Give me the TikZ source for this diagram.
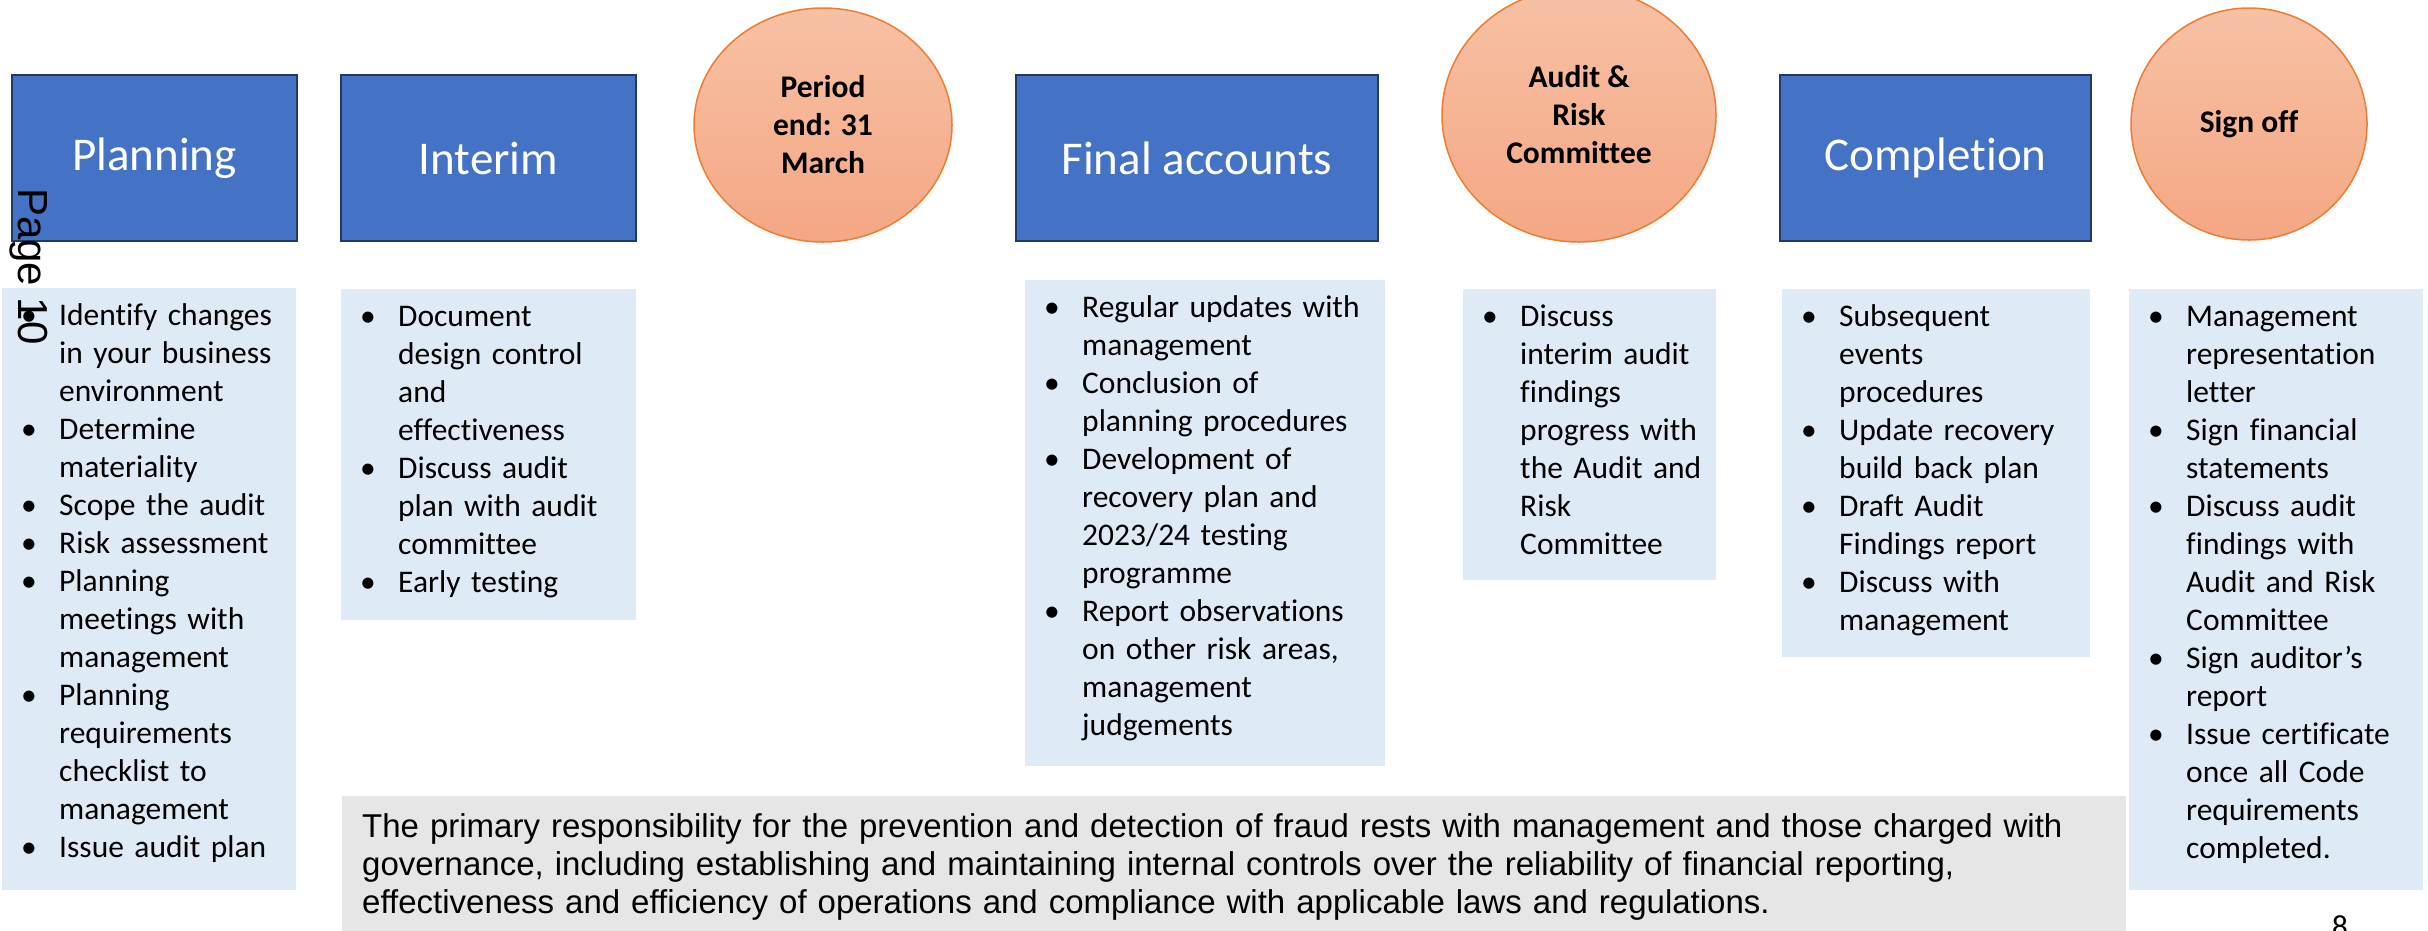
\documentclass[tikz,border=0pt]{standalone}
\usepackage{fontspec}
\setmainfont{Carlito}[Ligatures=NoCommon]
\newfontfamily\notefont{Liberation Sans}
\usetikzlibrary{shapes.geometric}

\definecolor{phaseblue}{HTML}{4472C4}
\definecolor{phaseedge}{HTML}{223A66}
\definecolor{listblue}{HTML}{DEEBF7}
\definecolor{notegray}{HTML}{E7E6E6}
\definecolor{mileedge}{HTML}{ED7D31}
\definecolor{miletop}{HTML}{F7C1A4}
\definecolor{milebot}{HTML}{F4A784}

% one bullet point with hanging indent
\newcommand{\bitem}[1]{\noindent\hangindent=38pt\hangafter=1\makebox[38pt][l]{•}#1\par}

\begin{document}
\begin{tikzpicture}[x=1pt, y=-1pt,
    phase/.style={rectangle, draw=phaseedge, line width=2.5pt, fill=phaseblue, text=white, inner sep=0pt, font=\fontsize{47}{56}\selectfont},
    milestone/.style={ellipse, draw=mileedge, line width=1.5pt, top color=miletop, bottom color=milebot, inner sep=0pt, align=center, font=\bfseries\fontsize{31.5}{38}\selectfont},
    listbox/.style={rectangle, fill=listblue, inner sep=0pt, anchor=north west},
    listtext/.style={anchor=base west, inner sep=0pt, text width=400pt, font=\fontsize{31.5}{38}\selectfont}]

        \useasboundingbox (0,0) rectangle (2428,930);

        % Phase boxes
        \foreach \nm/\cx/\w/\txt in {plan/154.5/285/Planning, inter/488.5/295/Interim, final/1197/362/Final accounts, compl/1935.5/311/Completion}
        \node[phase, minimum width=\w pt, minimum height=166pt] (\nm) at (\cx,158) {\txt};

        % Milestones
        \node[milestone, minimum width=258pt, minimum height=234pt] (period) at (823,125) {Period\\end: 31\\March};
        \node[milestone, minimum width=274pt, minimum height=254pt] (arc) at (1579,115) {Audit \&\\Risk\\Committee};
        \node[milestone, minimum width=236pt, minimum height=232pt] (signoff) at (2249,124) {Sign off};

        % Fraud note
        \node[rectangle, fill=notegray, inner sep=0pt, anchor=north west, minimum width=1784pt, minimum height=150pt] (note) at (342,796) {};
        \node[anchor=base west, inner sep=0pt, text width=1760pt, align=left, font=\notefont\fontsize{33}{38}\selectfont] (noteT) at ([shift={(20,41)}]note.north west)
            {The primary responsibility for the prevention and detection of fraud rests with management and those charged with\\governance, including establishing and maintaining internal controls over the reliability of financial reporting,\\effectiveness and efficiency of operations and compliance with applicable laws and regulations.};

        % Activity boxes
        \foreach \nm/\x/\y/\w/\h in {planL/2/288/294/602, interL/341/289/295/331, finalL/1025/280/360/486, auditL/1463/289/253/291, complL/1782/289/308/368, signL/2129/289/294/601}
        \node[listbox, minimum width=\w pt, minimum height=\h pt] (\nm) at (\x,\y) {};

        % Activities
        \node[listtext] (planT) at ([shift={(19,37)}]planL.north west) {%
            \bitem{Identify changes\newline in your business\newline environment}%
            \bitem{Determine\newline materiality}%
            \bitem{Scope the audit}%
            \bitem{Risk assessment}%
            \bitem{Planning\newline meetings with\newline management}%
            \bitem{Planning\newline requirements\newline checklist to\newline management}%
            \bitem{Issue audit plan}};
        \node[listtext] (interT) at ([shift={(19,37)}]interL.north west) {%
            \bitem{Document\newline design control\newline and\newline effectiveness}%
            \bitem{Discuss audit\newline plan with audit\newline committee}%
            \bitem{Early testing}};
        \node[listtext] (finalT) at ([shift={(19,37)}]finalL.north west) {%
            \bitem{Regular updates with\newline management}%
            \bitem{Conclusion of\newline planning procedures}%
            \bitem{Development of\newline recovery plan and\newline 2023/24 testing\newline programme}%
            \bitem{Report observations\newline on other risk areas,\newline management\newline judgements}};
        \node[listtext] (auditT) at ([shift={(19,37)}]auditL.north west) {%
            \bitem{Discuss\newline interim audit\newline findings\newline progress with\newline the Audit and\newline Risk\newline Committee}};
        \node[listtext] (complT) at ([shift={(19,37)}]complL.north west) {%
            \bitem{Subsequent\newline events\newline procedures}%
            \bitem{Update recovery\newline build back plan}%
            \bitem{Draft Audit\newline Findings report}%
            \bitem{Discuss with\newline management}};
        \node[listtext] (signT) at ([shift={(19,37)}]signL.north west) {%
            \bitem{Management\newline representation\newline letter}%
            \bitem{Sign financial\newline statements}%
            \bitem{Discuss audit\newline findings with\newline Audit and Risk\newline Committee}%
            \bitem{Sign auditor’s\newline report}%
            \bitem{Issue certificate\newline once all Code\newline requirements\newline completed.}};

        % Page marks
        \node[rotate=-90, anchor=base west, inner sep=0pt, font=\notefont\fontsize{42}{50}\selectfont] (pageno) at (18,188) {Page 10};
        \node[anchor=base, inner sep=0pt, font=\fontsize{32}{38}\selectfont] (slide) at (2340,937) {8};
    \end{tikzpicture}
\end{document}
